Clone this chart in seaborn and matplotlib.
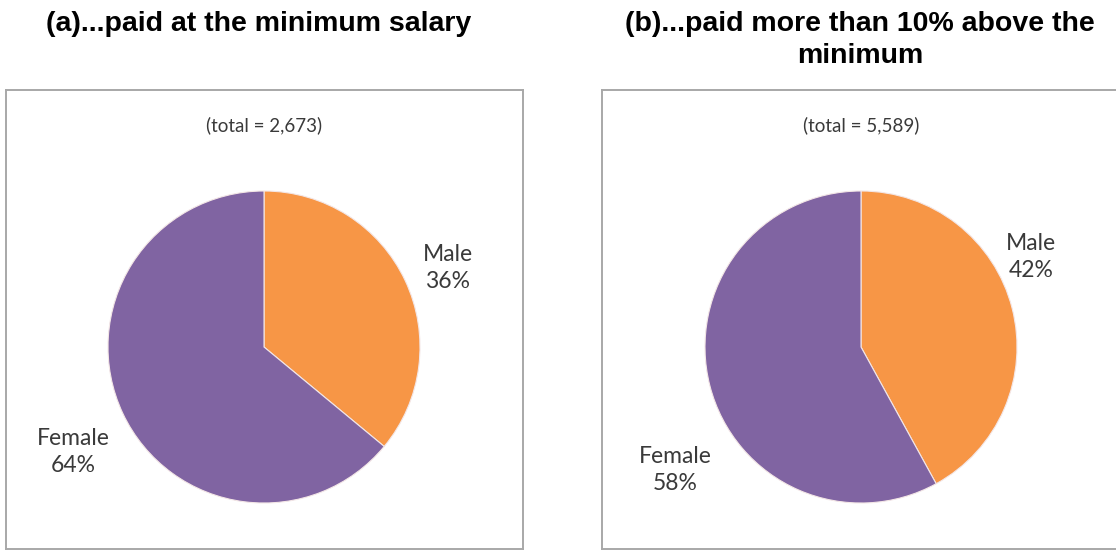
import matplotlib
matplotlib.use("Agg")
import matplotlib.pyplot as plt
import seaborn as sns

# Data
categories = ["Male", "Female"]
share_min = [36, 64]          # paid at the minimum salary (%)
share_above = [42, 58]        # paid more than 10% above the minimum (%)
totals = [2673, 5589]
titles = ["(a)...paid at the minimum salary",
          "(b)...paid more than 10% above the\nminimum"]

sns.set_theme(style="white")
plt.rcParams["font.family"] = ["Lato", "DejaVu Sans"]

palette = {"Male": "#F79646", "Female": "#8064A2"}

W, H = 1116, 553
fig = plt.figure(figsize=(W / 100, H / 100), dpi=100)
fig.patch.set_facecolor("white")


def px_rect(x0, y0, w, h):
    """Pixel box (top-left origin) -> figure fraction rect."""
    return [x0 / W, 1 - (y0 + h) / H, w / W, h / H]


panels = [
    dict(box_x=6, pie_cx=264, shares=share_min, total=totals[0], title=titles[0],
         title_x=259, labels={"Male": (448, 268), "Female": (73, 452)}),
    dict(box_x=602, pie_cx=861, shares=share_above, total=totals[1], title=titles[1],
         title_x=860, labels={"Male": (1031, 257), "Female": (675, 470)}),
]

box_y, box_w, box_h = 90, 517, 459
pie_cy, pie_r = 347, 156
text_color = "#3a3a3a"

for p in panels:
    # framed chart area
    frame = fig.add_axes(px_rect(p["box_x"], box_y, box_w, box_h))
    frame.set_xticks([])
    frame.set_yticks([])
    frame.set_facecolor("white")
    for s in frame.spines.values():
        s.set_visible(True)
        s.set_color("#a8a8a8")
        s.set_linewidth(1.4)

    # pie
    ax = fig.add_axes(px_rect(p["pie_cx"] - pie_r, pie_cy - pie_r, 2 * pie_r, 2 * pie_r))
    ax.pie(p["shares"], colors=[palette[c] for c in categories],
           startangle=90, counterclock=False,
           wedgeprops=dict(edgecolor="#f3e6e6", linewidth=0.8))
    ax.set_xlim(-1, 1)
    ax.set_ylim(-1, 1)
    ax.set_aspect("equal")
    ax.axis("off")

    # total note
    fig.text(p["pie_cx"] / W, 1 - 125 / H, f"(total = {p['total']:,})",
             ha="center", va="center", fontsize=13.5, color=text_color)

    # category labels
    for cat, val in zip(categories, p["shares"]):
        lx, ly = p["labels"][cat]
        fig.text(lx / W, 1 - ly / H, f"{cat}\n{val}%", ha="center", va="center",
                 fontsize=16.5, color=text_color, linespacing=1.3)

    # panel title
    fig.text(p["title_x"] / W, 1 - 11 / H, p["title"], ha="center", va="top",
             fontsize=20.5, fontweight="bold", family=["Liberation Sans", "DejaVu Sans"],
             color="black", linespacing=1.3)

fig.savefig("out.png", dpi=100, facecolor="white")
